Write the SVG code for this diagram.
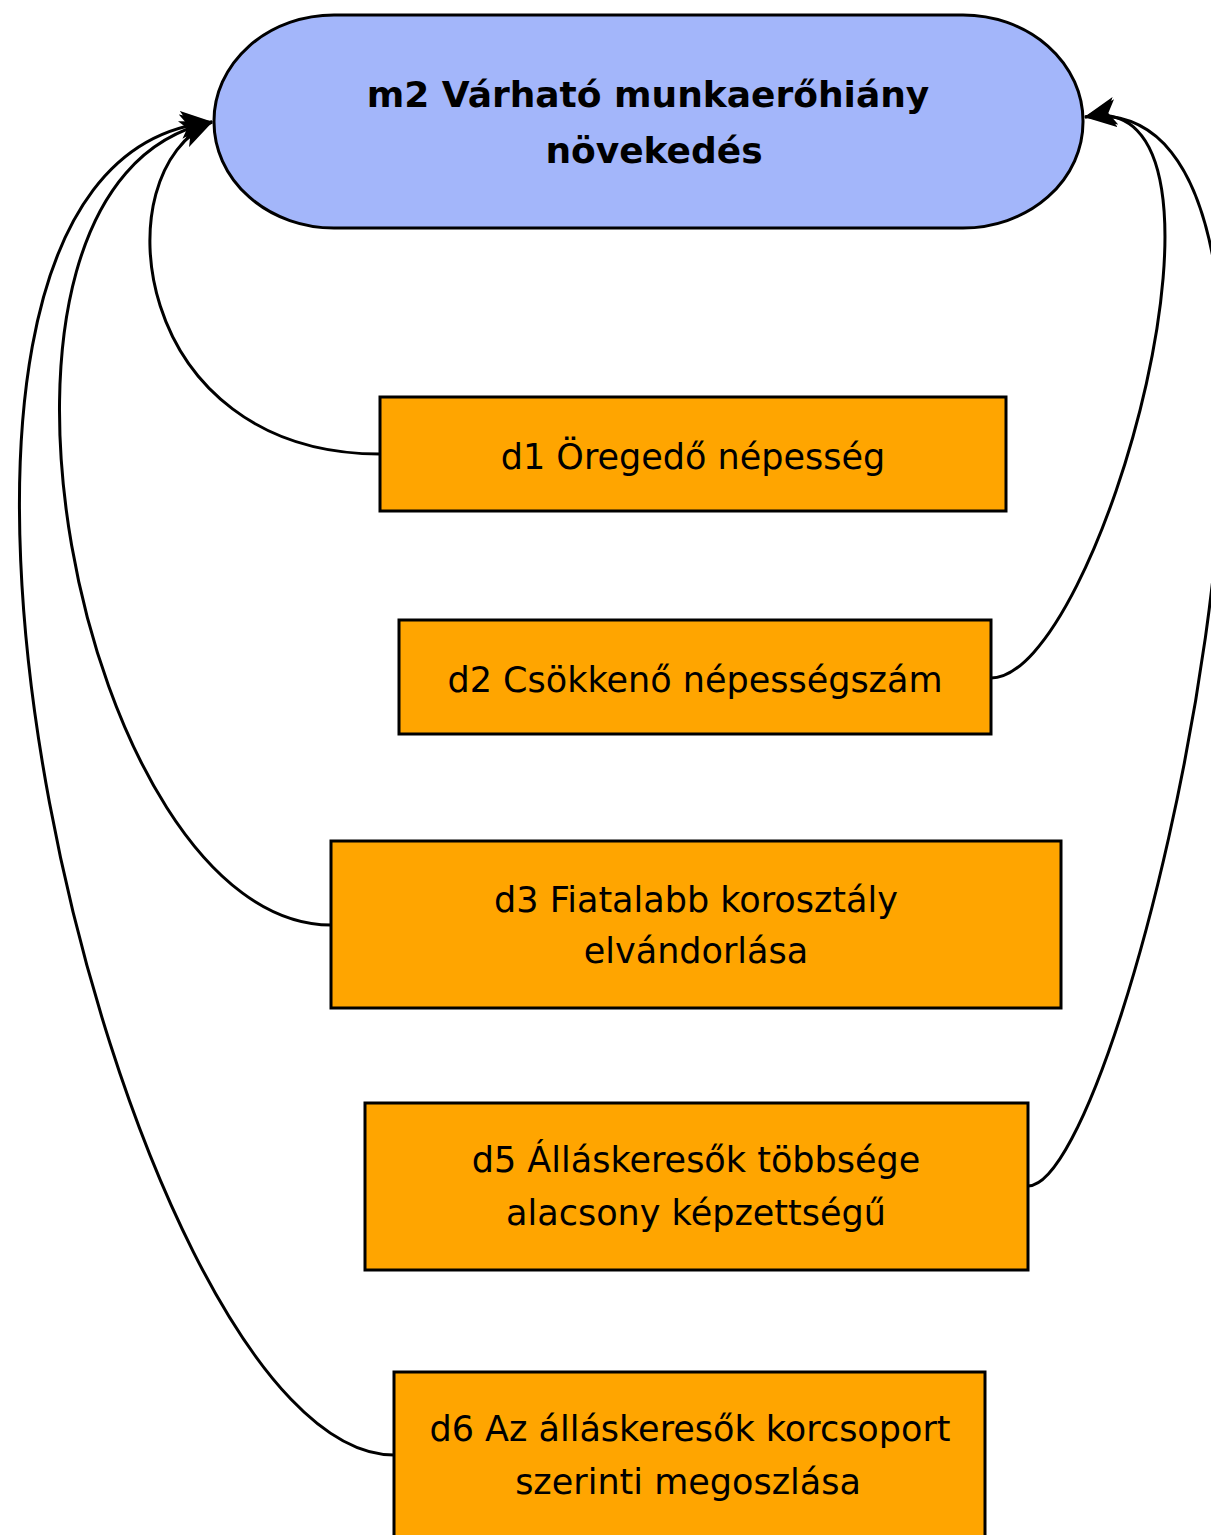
<svg xmlns="http://www.w3.org/2000/svg" width="1211" height="1535" viewBox="0 0 1211 1535">
<style>
.box{fill:#ffa500;stroke:#000;stroke-width:3}
.main{fill:#a3b6fa;stroke:#000;stroke-width:3}
.t{font-family:"DejaVu Sans","Liberation Sans",sans-serif;font-size:35px;fill:#000;text-anchor:middle}
.tb{font-family:"DejaVu Sans","Liberation Sans",sans-serif;font-size:36px;font-weight:bold;fill:#000;text-anchor:middle}
.c{fill:none;stroke:#000;stroke-width:3}
</style>
<defs>
<marker id="arr" markerUnits="userSpaceOnUse" markerWidth="32" markerHeight="28" viewBox="0 0 32 28" refX="31" refY="14" orient="auto">
<path d="M0,0 L32,14 L0,28 L8,14 Z" fill="#000"/>
</marker>
</defs>
<rect width="1211" height="1535" fill="#fff"/>
<g id="connectors">
<path class="c" d="M380,454 C130,454 100,170 212,122" marker-end="url(#arr)"/>
<path class="c" d="M331,925 C80,925 -70,180 212,122" marker-end="url(#arr)"/>
<path class="c" d="M394,1455 C120,1455 -190,160 212,122" marker-end="url(#arr)"/>
<path class="c" d="M991,678 C1100,678 1265,80 1085,117" marker-end="url(#arr)"/>
<path class="c" d="M1028,1186 C1130,1186 1380,80 1085,117" marker-end="url(#arr)"/>
</g>
<g id="m2">
<rect class="main" x="214" y="15" width="869" height="213" rx="120" ry="106"/>
<text class="tb" x="648" y="107">m2 Várható munkaerőhiány</text>
<text class="tb" x="654" y="163">növekedés</text>
</g>
<g id="d1">
<rect class="box" x="380" y="397" width="626" height="114"/>
<text class="t" x="693" y="469">d1 Öregedő népesség</text>
</g>
<g id="d2">
<rect class="box" x="399" y="620" width="592" height="114"/>
<text class="t" x="695" y="692">d2 Csökkenő népességszám</text>
</g>
<g id="d3">
<rect class="box" x="331" y="841" width="730" height="167"/>
<text class="t" x="696" y="912">d3 Fiatalabb korosztály</text>
<text class="t" x="696" y="963">elvándorlása</text>
</g>
<g id="d5">
<rect class="box" x="365" y="1103" width="663" height="167"/>
<text class="t" x="696" y="1172">d5 Álláskeresők többsége</text>
<text class="t" x="696" y="1225">alacsony képzettségű</text>
</g>
<g id="d6">
<rect class="box" x="394" y="1372" width="591" height="175"/>
<text class="t" x="690" y="1441">d6 Az álláskeresők korcsoport</text>
<text class="t" x="688" y="1494">szerinti megoszlása</text>
</g>
</svg>
